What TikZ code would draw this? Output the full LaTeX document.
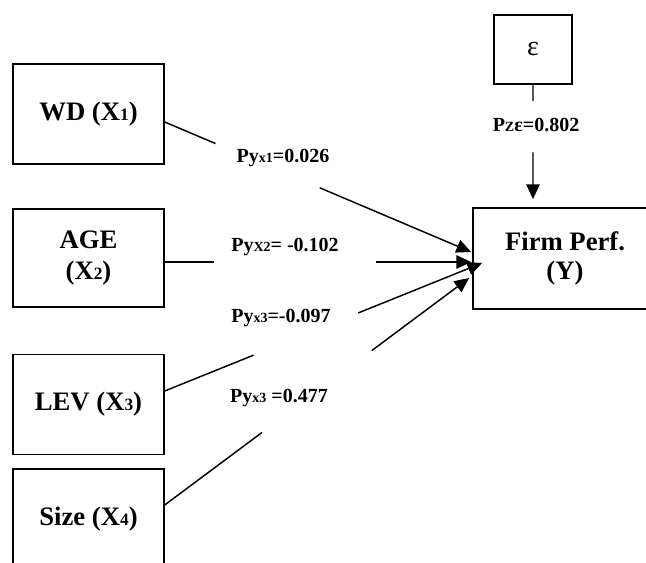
\documentclass[tikz,border=0pt]{standalone}
\usepackage{fontspec}
\setmainfont{Liberation Serif}
\usetikzlibrary{arrows.meta, positioning, calc}

\newcommand{\idx}[1]{{\fontsize{13}{15}\selectfont #1}}
\newcommand{\lowtxt}[1]{{\fontsize{10.5}{12}\selectfont #1}}

\tikzset{
  varbox/.style={draw, line width=1.3pt, minimum width=113pt, minimum height=75pt,
    align=center, inner sep=0pt, font=\bfseries\fontsize{20}{22}\selectfont},
  coef/.style={inner sep=1pt, font=\bfseries\fontsize{15}{17}\selectfont},
  pathline/.style={line width=1.1pt},
  patharrow/.style={pathline, -{Triangle[length=11pt, width=10pt]}}
}

\begin{document}
\begin{tikzpicture}[x=0.75pt, y=-0.75pt]
  \clip (0,0) rectangle (646,563);

  % exogenous variables
  \node[varbox] (wd) at (88.5,114) {WD (X\idx{1})};
  \node[varbox, minimum height=73.5pt] (age) at (88.5,258) {AGE\\[1pt](X\idx{2})};
  \node[varbox] (lev) at (88.5,404.5) {LEV (X\idx{3})};
  \node[varbox] (size) at (88.5,519) {Size (X\idx{4})};

  % residual and endogenous variable
  \node[varbox, minimum width=59pt, minimum height=52pt, font=\fontsize{21}{24}\selectfont] (eps) at (533,49.5) {ε};
  \node[varbox, minimum width=138pt, minimum height=75.75pt] (firm) at (565,258.5) {Firm Perf.\\(Y)};

  % start and end points of the paths
  \coordinate (s1) at ($(wd.east)+(0,8)$);
  \coordinate (s2) at ($(age.east)+(0,4)$);
  \coordinate (s3) at ($(lev.east)+(0,-13.5)$);
  \coordinate (s4) at ($(size.east)+(0,-14)$);
  \coordinate (t1) at ($(firm.west)+(-1,-6.5)$);
  \coordinate (t2) at ($(firm.west)+(-1,3.5)$);
  \coordinate (t3) at ($(firm.west)+(10,4.5)$);
  \coordinate (t4) at ($(firm.west)+(-3,19.5)$);
  \coordinate (t0) at ($(eps.south |- firm.north)+(0,-8)$);

  % broken path lines
  \foreach \i/\a/\b in {1/0.166/0.506, 2/0.16/0.69, 3/0.28/0.61, 4/0.32/0.68} {
    \draw[pathline] (s\i) -- ($(s\i)!\a!(t\i)$);
    \draw[patharrow] ($(s\i)!\b!(t\i)$) -- (t\i);
  }
  \draw[pathline] (eps.south) -- ($(eps.south)!0.14!(t0)$);
  \draw[patharrow] ($(eps.south)!0.59!(t0)$) -- (t0);

  % path coefficients
  \node[coef] (c1) at (283,158) {Py\lowtxt{x1}=0.026};
  \node[coef] (c2) at (285,247) {Py\lowtxt{X2}= -0.102};
  \node[coef] (c3) at (281,318) {Py\lowtxt{x3}=-0.097};
  \node[coef] (c4) at (279,398) {Py\lowtxt{x3} =0.477};
  \node[coef] (c0) at (536,125) {P\lowtxt{Z}ε=0.802};
\end{tikzpicture}
\end{document}
